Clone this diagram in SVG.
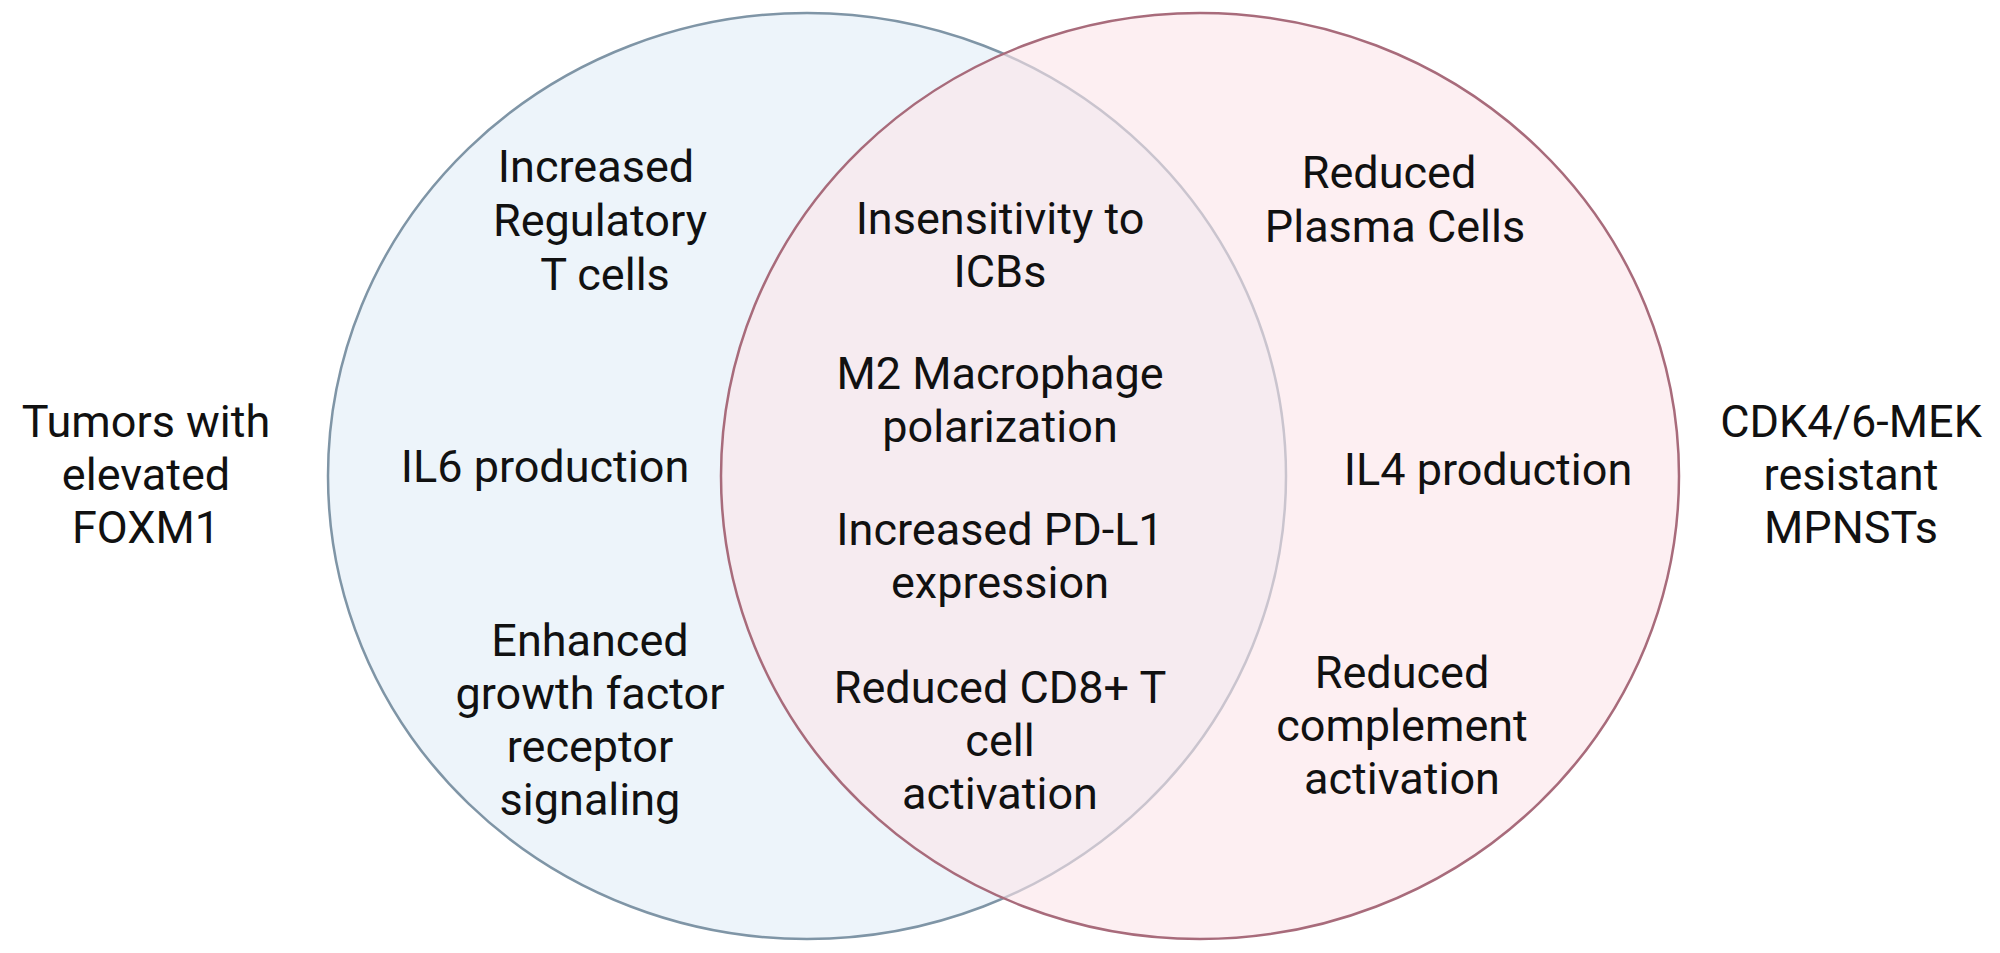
<svg xmlns="http://www.w3.org/2000/svg" width="2000" height="953" viewBox="0 0 2000 953">
<style>
text{font-family:Roboto,"Liberation Sans",sans-serif;font-size:45px;fill:#111111;text-anchor:middle}
</style>
<rect width="2000" height="953" fill="#ffffff"/>
<g id="left-circle"><ellipse cx="807" cy="476" rx="479" ry="463" fill="#edf4fa" stroke="#7f95a6" stroke-width="2.5"/></g>
<g id="right-circle"><ellipse cx="1200" cy="476" rx="479" ry="463" fill="#fbe4ea" fill-opacity="0.6" stroke="#a86b7b" stroke-width="2.5"/></g>
<g id="left-label"><text x="146" y="437">Tumors with</text><text x="146" y="490">elevated</text><text x="146" y="543">FOXM1</text></g>
<g id="right-label"><text x="1851" y="437">CDK4/6-MEK</text><text x="1851" y="490">resistant</text><text x="1851" y="543">MPNSTs</text></g>
<g id="left-items">
<text x="596" y="182">Increased</text><text x="600" y="236">Regulatory</text><text x="605" y="290">T cells</text>
<text x="545" y="482">IL6 production</text>
<text x="590" y="656">Enhanced</text><text x="590" y="709">growth factor</text><text x="590" y="762">receptor</text><text x="590" y="815">signaling</text>
</g>
<g id="center-items">
<text x="1000" y="234">Insensitivity to</text><text x="1000" y="287">ICBs</text>
<text x="1000" y="389">M2 Macrophage</text><text x="1000" y="442">polarization</text>
<text x="1000" y="545">Increased PD-L1</text><text x="1000" y="598">expression</text>
<text x="1000" y="703">Reduced CD8+ T</text><text x="1000" y="756">cell</text><text x="1000" y="809">activation</text>
</g>
<g id="right-items">
<text x="1389" y="188">Reduced</text><text x="1395" y="242">Plasma Cells</text>
<text x="1488" y="485">IL4 production</text>
<text x="1402" y="688">Reduced</text><text x="1402" y="741">complement</text><text x="1402" y="794">activation</text>
</g>
<g id="connectors"></g>
</svg>
